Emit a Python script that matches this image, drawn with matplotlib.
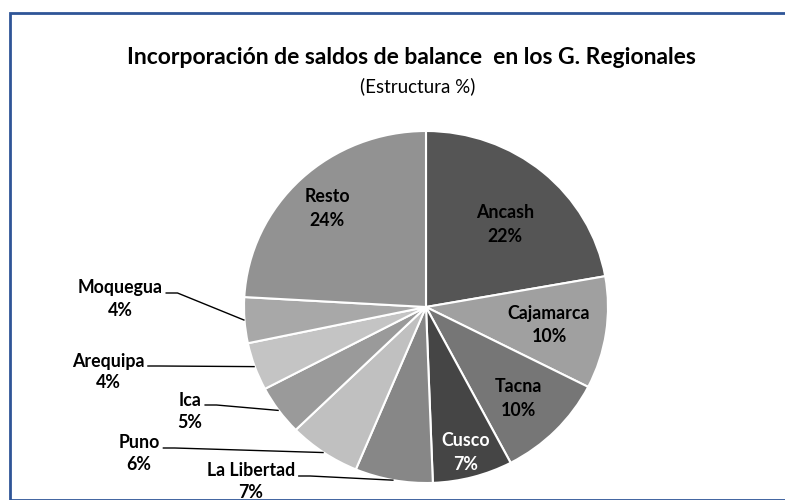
import numpy as np
import matplotlib
matplotlib.use("Agg")
import matplotlib.pyplot as plt
from matplotlib.patches import Rectangle

plt.rcParams['font.family'] = ['Lato', 'DejaVu Sans']

# ---- data ----
regions = ["Ancash", "Cajamarca", "Tacna", "Cusco", "La Libertad", "Puno",
           "Ica", "Arequipa", "Moquegua", "Resto"]
shares = [22.2, 10.3, 9.8, 7.1, 6.9, 6.4, 4.6, 4.4, 4.2, 24.1]
colors = ["#555555", "#a0a0a0", "#767676", "#454545", "#878787", "#c0c0c0",
          "#9a9a9a", "#c4c4c4", "#a8a8a8", "#929292"]
title = "Incorporación de saldos de balance  en los G. Regionales"
subtitle = "(Estructura %)"

W, H = 785, 500
fig = plt.figure(figsize=(W / 100, H / 100), dpi=100)
fig.patch.set_facecolor("white")

# border
fig.patches.append(Rectangle((10 / W, 0), 1.2, (H - 13) / H, transform=fig.transFigure,
                             fill=False, edgecolor="#2f5597", linewidth=2.0, zorder=10))

# pie geometry in pixels
cx, cy, rx, ry = 426, 307, 182, 176
ax = fig.add_axes([(cx - rx) / W, (H - cy - ry) / H, 2 * rx / W, 2 * ry / H])
wedges, _ = ax.pie(shares, colors=colors, startangle=90, counterclock=False,
                   wedgeprops=dict(edgecolor="white", linewidth=1.5))
ax.set_aspect("auto")
ax.set_xlim(-1, 1)
ax.set_ylim(-1, 1)
ax.axis("off")


def p2d(px, py):
    return (px - cx) / rx, (cy - py) / ry


fs = 12.8
pct = [f"{v:.0f}%" for v in shares]

inside = {"Ancash": (505, 213, "black"), "Cajamarca": (549, 313, "black"),
          "Tacna": (518, 387, "black"), "Cusco": (466, 441, "white"),
          "Resto": (327, 197, "black")}
outside = {"Moquegua": (120, 288), "Arequipa": (108, 361),
           "Ica": (190, 400), "Puno": (139, 443),
           "La Libertad": (251, 471)}

renderer = fig.canvas.get_renderer()
for i, name in enumerate(regions):
    w = wedges[i]
    if name in inside:
        px, py, c = inside[name]
        x, y = p2d(px, py)
        ax.text(x, y, name, ha="center", va="center", fontsize=fs,
                fontweight="bold", color=c)
        x2, y2 = p2d(px, py + 23)
        ax.text(x2, y2, pct[i], ha="center", va="center", fontsize=fs,
                fontweight="bold", color=c)
    else:
        px, py = outside[name]
        x, y = p2d(px, py)
        t = ax.text(x, y, name, ha="center", va="center", fontsize=fs,
                    fontweight="bold", color="black", clip_on=False)
        x2, y2 = p2d(px, py + 22)
        ax.text(x2, y2, pct[i], ha="center", va="center", fontsize=fs,
                fontweight="bold", color="black", clip_on=False)
        bb = t.get_window_extent(renderer)
        lx = bb.x1 + 3
        mid = np.deg2rad((w.theta1 + w.theta2) / 2)
        ex, ey = np.cos(mid), np.sin(mid)
        sx, sy = p2d(lx, py + 5)
        kx, ky = p2d(lx + 12, py + 5)
        ax.plot([sx, kx, ex], [sy, ky, ey], color="black", linewidth=1.0,
                clip_on=False, solid_capstyle="butt")

fig.text(411 / W, 1 - 58 / H, title, ha="center", va="center", fontsize=16.5,
         fontweight="bold")
fig.text(418 / W, 1 - 86 / H, subtitle, ha="center", va="center", fontsize=13.5)

fig.savefig("out.png", dpi=100, facecolor="white")
